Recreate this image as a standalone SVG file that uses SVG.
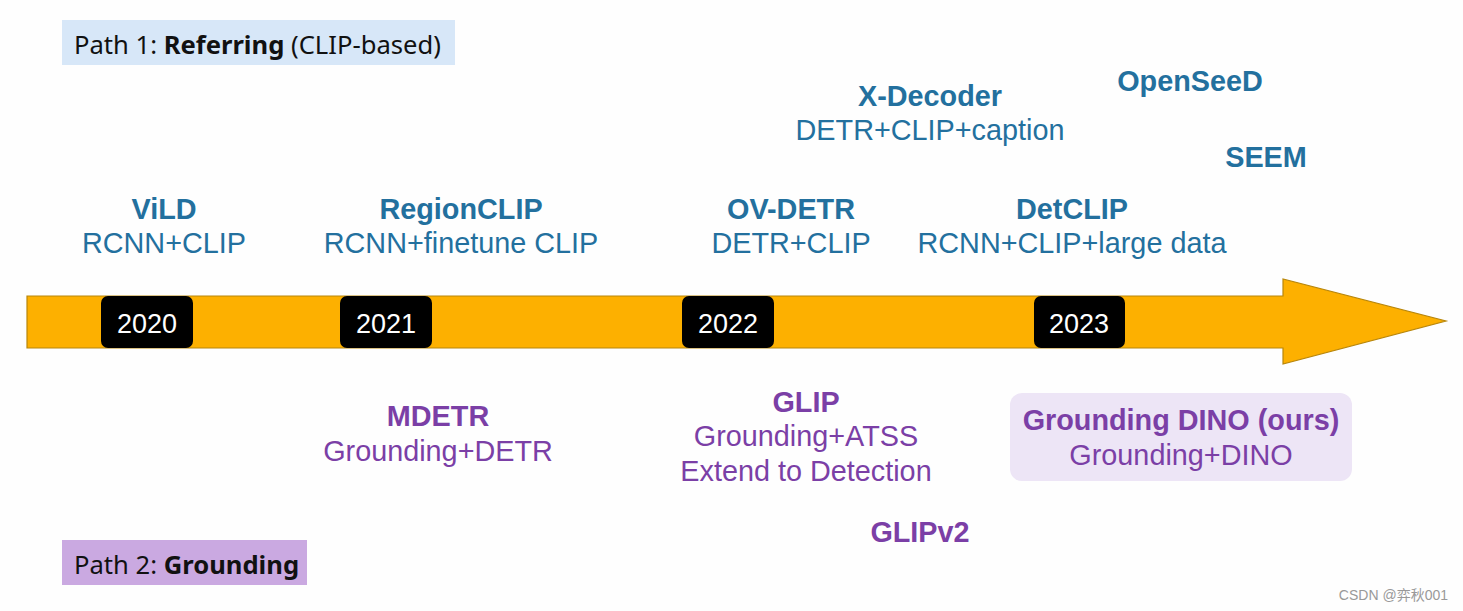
<svg xmlns="http://www.w3.org/2000/svg" width="1463" height="611" viewBox="0 0 1463 611">
<style>
.t{font-family:"Liberation Sans",Arial,sans-serif;font-size:28.8px;text-anchor:middle}
.b{font-weight:bold}
.blue{fill:#23709e}
.pur{fill:#7b3fa6}
.yr{font-family:"Liberation Sans",Arial,sans-serif;font-size:27px;fill:#fff;text-anchor:middle}
.yb{fill:#000}
.path{font-family:"Noto Sans","Open Sans",sans-serif;font-size:25.6px;fill:#111}
</style>
<rect width="1463" height="611" fill="#fefefe"/>
<g id="path1">
<rect x="62" y="20" width="393" height="45" fill="#d7e7f8"/>
<text class="path" x="74" y="54">Path 1: <tspan font-weight="bold">Referring</tspan> (CLIP-based)</text>
</g>
<g id="path2">
<rect x="62" y="540" width="245" height="45" fill="#caa9e1"/>
<text class="path" x="74" y="574">Path 2: <tspan font-weight="bold">Grounding</tspan></text>
</g>
<g id="connectors">
<path d="M27,296 H1283 V279 L1446,321 L1283,364 V348 H27 Z" fill="#fdb000" stroke="#b8860b" stroke-width="1.2"/>
</g>
<g id="y2020"><rect class="yb" x="101" y="296" width="92" height="52" rx="7"/><text class="yr" x="147" y="333">2020</text></g>
<g id="y2021"><rect class="yb" x="340" y="296" width="92" height="52" rx="7"/><text class="yr" x="386" y="333">2021</text></g>
<g id="y2022"><rect class="yb" x="682" y="296" width="92" height="52" rx="7"/><text class="yr" x="728" y="333">2022</text></g>
<g id="y2023"><rect class="yb" x="1034" y="296" width="91" height="52" rx="7"/><text class="yr" x="1079" y="333">2023</text></g>
<g id="vild"><text class="t b blue" x="164" y="219">ViLD</text><text class="t blue" x="164" y="253">RCNN+CLIP</text></g>
<g id="regionclip"><text class="t b blue" x="461" y="219">RegionCLIP</text><text class="t blue" x="461" y="253">RCNN+finetune CLIP</text></g>
<g id="ovdetr"><text class="t b blue" x="791" y="219">OV-DETR</text><text class="t blue" x="791" y="253">DETR+CLIP</text></g>
<g id="detclip"><text class="t b blue" x="1072" y="219">DetCLIP</text><text class="t blue" x="1072" y="253">RCNN+CLIP+large data</text></g>
<g id="xdecoder"><text class="t b blue" x="930" y="106">X-Decoder</text><text class="t blue" x="930" y="140">DETR+CLIP+caption</text></g>
<g id="openseed"><text class="t b blue" x="1190" y="91">OpenSeeD</text></g>
<g id="seem"><text class="t b blue" x="1266" y="167">SEEM</text></g>
<g id="mdetr"><text class="t b pur" x="438" y="426">MDETR</text><text class="t pur" x="438" y="461">Grounding+DETR</text></g>
<g id="glip"><text class="t b pur" x="806" y="412">GLIP</text><text class="t pur" x="806" y="446">Grounding+ATSS</text><text class="t pur" x="806" y="481">Extend to Detection</text></g>
<g id="glipv2"><text class="t b pur" x="920" y="542">GLIPv2</text></g>
<g id="gdino">
<rect x="1010" y="393" width="342" height="88" rx="12" fill="#ede5f6"/>
<text class="t b pur" x="1181" y="430">Grounding DINO (ours)</text><text class="t pur" x="1181" y="465">Grounding+DINO</text>
</g>
<text x="1448" y="600" font-family="'Liberation Sans','Noto Sans CJK SC',sans-serif" font-size="14" fill="#999" text-anchor="end">CSDN @弈秋001</text>
</svg>
